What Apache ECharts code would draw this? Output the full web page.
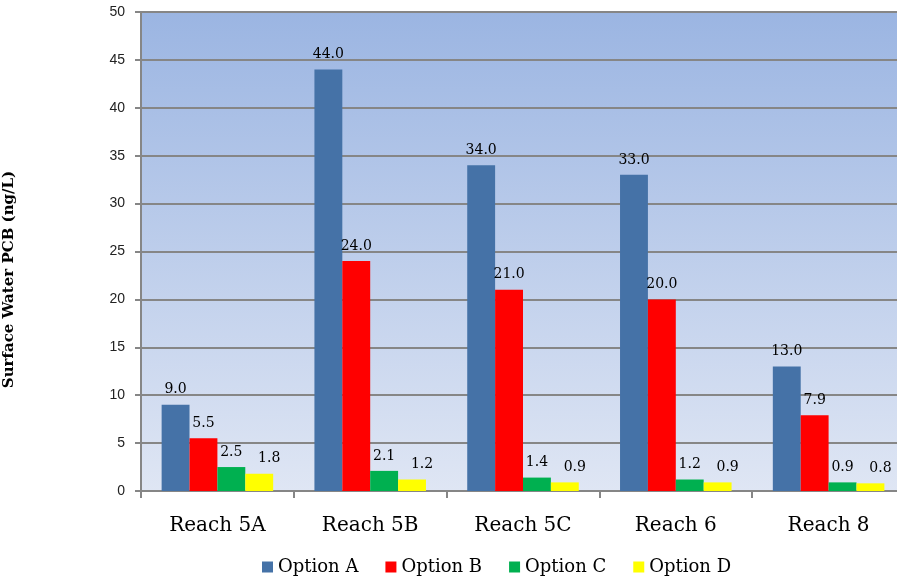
<!DOCTYPE html>
<html>
<head>
<meta charset="utf-8">
<script src="https://cdn.jsdelivr.net/npm/echarts@6/dist/echarts.min.js"></script>
<style>
  html, body { margin: 0; padding: 0; background: #ffffff; }
  #chart { width: 897px; height: 577px; }
</style>
</head>
<body>
<div id="chart"></div>
<script>
// Surface water PCB concentrations by reach, four remedial options
const reaches = ['Reach 5A', 'Reach 5B', 'Reach 5C', 'Reach 6', 'Reach 8'];
const optionNames = ['Option A', 'Option B', 'Option C', 'Option D'];
const optionA = [9.0, 44.0, 34.0, 33.0, 13.0];
const optionB = [5.5, 24.0, 21.0, 20.0, 7.9];
const optionC = [2.5, 2.1, 1.4, 1.2, 0.9];
const optionD = [1.8, 1.2, 0.9, 0.9, 0.8];
const optionColors = ['#4572a7', '#ff0000', '#00b050', '#ffff00'];
const yTicks = { min: 0, max: 50, interval: 5 };

const serif = '"DejaVu Serif", "Liberation Serif", serif';
const sans = '"Liberation Sans", Arial, sans-serif';

const seriesValues = [optionA, optionB, optionC, optionD];

const chart = echarts.init(document.getElementById('chart'), null, { renderer: 'canvas' });

chart.setOption({
  animation: false,
  backgroundColor: '#ffffff',
  grid: {
    left: 141,
    top: 12,
    width: 764,
    height: 479,
    outerBoundsMode: 'none',
    containLabel: false,
    show: true,
    borderWidth: 0,
    backgroundColor: new echarts.graphic.LinearGradient(0, 0, 0, 1, [
      { offset: 0, color: '#9bb5e2' },
      { offset: 1, color: '#dfe6f4' }
    ])
  },
  legend: {
    data: optionNames,
    left: 257,
    top: 553,
    itemWidth: 11,
    itemHeight: 11,
    itemGap: 27,
    icon: 'rect',
    textStyle: { fontFamily: serif, fontSize: 18, color: '#000' }
  },
  xAxis: {
    type: 'category',
    data: reaches,
    axisLine: { show: true, lineStyle: { color: '#868686', width: 2 } },
    axisTick: { show: true, length: 7, lineStyle: { color: '#868686', width: 2 } },
    axisLabel: { margin: 25, fontFamily: serif, fontSize: 20, color: '#000' },
    splitLine: { show: false }
  },
  yAxis: {
    type: 'value',
    min: yTicks.min,
    max: yTicks.max,
    interval: yTicks.interval,
    name: 'Surface Water PCB (ng/L)',
    nameLocation: 'middle',
    nameGap: 124,
    nameRotate: 90,
    nameTextStyle: {
      fontFamily: serif, fontWeight: 'bold', fontSize: 15, color: '#000',
      padding: [0, 56, 0, 0]
    },
    axisLine: { show: true, lineStyle: { color: '#868686', width: 2 } },
    axisTick: { show: true, length: 6, lineStyle: { color: '#868686', width: 2 } },
    axisLabel: { margin: 16, fontFamily: sans, fontSize: 14, color: '#222' },
    splitLine: { show: true, lineStyle: { color: '#868686', width: 2 } }
  },
  series: optionNames.map((name, i) => ({
    name: name,
    type: 'bar',
    data: seriesValues[i],
    barGap: '0%',
    barCategoryGap: '27%',
    itemStyle: { color: optionColors[i] },
    label: {
      show: true,
      position: 'top',
      distance: 8,
      offset: i === 3 ? [10, 0] : [0, 0],
      fontFamily: serif,
      fontSize: 14,
      color: '#000',
      formatter: p => p.value.toFixed(1)
    }
  }))
});
</script>
</body>
</html>
